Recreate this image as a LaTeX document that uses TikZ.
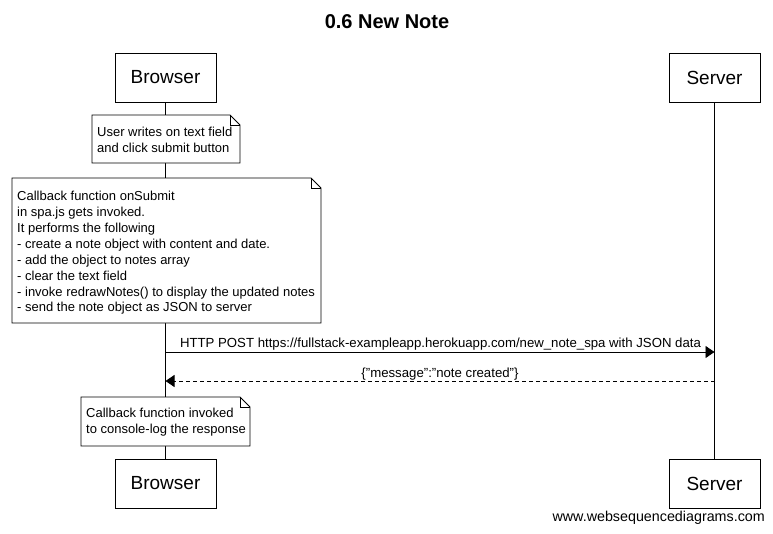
\documentclass[tikz,border=0pt]{standalone}
\usepackage{fontspec}
\setmainfont{Liberation Sans}
\usetikzlibrary{arrows.meta}
\tikzset{
  actor/.style={draw, line width=0.9pt, fill=white, minimum width=#1, minimum height=49pt, inner sep=0pt, font=\fontsize{19}{22}\selectfont},
  actor/.default=101pt,
  notetext/.style={inner sep=0pt, align=left, font=\fontsize{13}{15.9}\selectfont, anchor=north west},
  lifeline/.style={line width=0.9pt},
  msg/.style={line width=0.9pt, -{Triangle[length=9pt,width=12pt]}},
  msgdash/.style={line width=0.9pt, dash pattern=on 4pt off 3pt, -{Triangle[length=9pt,width=12pt]}},
  lbl/.style={inner sep=0pt, font=\fontsize{13.2}{15}\selectfont},
}
\newcommand{\drawnote}[5]{%
  % #1 name, #2 left, #3 top, #4 right, #5 bottom
  \coordinate (#1-nw) at (#2,#3);
  \coordinate (#1-se) at (#4,#5);
  \filldraw[fill=white, line width=0.9pt] (#2,#5) -- (#2,#3) -- ({#4-10},#3) -- (#4,{#3+10}) -- (#4,#5) -- cycle;
  \draw[line width=0.9pt] ({#4-10},#3) -- ({#4-10},{#3+10}) -- (#4,{#3+10});
}
\begin{document}
\begin{tikzpicture}[x=1pt,y=-1pt]
\useasboundingbox (0,0) rectangle (773,533);
% title
\node[font=\bfseries\fontsize{20}{24}\selectfont] (title) at (387,22) {0.6 New Note};
% actors
\node[actor] (bt) at (165.5,77.5) {\raisebox{-1pt}{Browser}};
\node[actor=91pt] (st) at (714.5,77.5) {\raisebox{-1pt}{Server}};
\node[actor] (bb) at (165.5,483.5) {\raisebox{-1pt}{Browser}};
\node[actor=91pt] (sb) at (714.5,483.5) {\raisebox{-1pt}{Server}};
% lifelines
\draw[lifeline] (bt.south) -- (bb.north);
\draw[lifeline] (st.south) -- (sb.north);
% note 1
\drawnote{n1}{92}{115}{240}{163}
\node[notetext] (n1t) at (97,127) {User writes on text field\\and click submit button};
% note 2
\drawnote{n2}{12}{178}{321}{323}
\node[notetext] (n2t) at (17,191) {Callback function onSubmit\\in spa.js gets invoked.\\It performs the following\\- create a note object with content and date.\\- add the object to notes array\\- clear the text field\\- invoke redrawNotes() to display the updated notes\\- send the note object as JSON to server};
% messages
\coordinate (b1) at (165.5,352);
\coordinate (s1) at (714.5,352);
\coordinate (b2) at (165.5,381);
\coordinate (s2) at (714.5,381);
\draw[msg] (b1) -- (s1);
\node[lbl] (m1) at (440.5,344) {HTTP POST https://fullstack-exampleapp.herokuapp.com/new\_note\_spa with JSON data};
\draw[msgdash] (s2) -- (b2);
\node[lbl] (m2) at (440,374) {\{"message":"note created"\}};
% note 3
\drawnote{n3}{81}{397}{250}{446}
\node[notetext] (n3t) at (86,408) {Callback function invoked\\to console-log the response};
% watermark
\node[inner sep=0pt, anchor=east, font=\fontsize{14.3}{16}\selectfont] (wm) at (765,518) {www.websequencediagrams.com};
\end{tikzpicture}
\end{document}
